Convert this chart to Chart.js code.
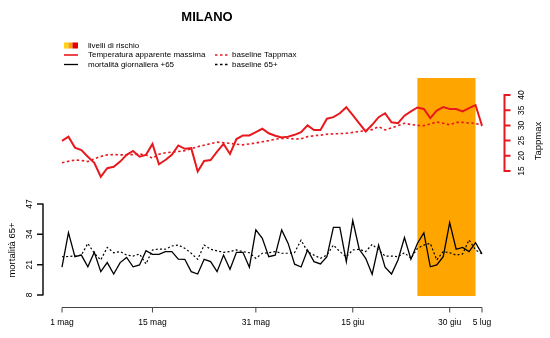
<!DOCTYPE html>
<html>
<head>
<meta charset="utf-8">
<script src="https://cdn.jsdelivr.net/npm/chart.js@4"></script>
<style>
  body { margin: 0; background: #fff; }
  canvas { display: block; }
</style>
</head>
<body>
<canvas id="milano" width="550" height="338"></canvas>
<script>
// daily values, 1 May - 5 July
var tappmax = [24.9, 26.3, 22.7, 21.9, 19.7, 17.7, 13.1, 15.9, 16.4, 18.1, 20.3, 21.6, 19.7, 20.3, 23.9, 17.2,
  18.6, 20.3, 23.4, 22.3, 22.5, 14.8, 18.3, 18.6, 21.4, 23.9, 20.6, 25.5, 26.7, 26.7, 27.8, 28.9, 27.4, 26.6,
  26.0, 26.3, 26.9, 27.8, 30.0, 28.5, 28.5, 32.2, 32.7, 34.0, 36.0, 33.4, 30.7, 28.0, 30.2, 32.7, 34.0, 31.0,
  30.7, 33.2, 34.6, 35.9, 35.4, 32.4, 34.9, 36.0, 35.4, 35.4, 34.6, 35.7, 36.7, 29.9];
var tappmaxBase = [17.7, 18.2, 18.6, 18.5, 18.1, 19.0, 19.8, 20.3, 20.4, 20.3, 20.3, 20.4, 20.6, 20.3, 19.2, 20.5,
  21.0, 21.2, 21.4, 21.7, 22.3, 23.0, 23.5, 24.0, 24.5, 24.3, 24.1, 23.8, 23.6, 23.9, 24.2, 24.6, 25.0, 25.5,
  25.7, 25.8, 25.5, 25.6, 26.3, 26.6, 26.8, 27.1, 27.2, 27.3, 27.4, 27.7, 28.0, 28.3, 28.6, 29.6, 28.5, 29.2,
  29.9, 30.7, 30.3, 30.0, 29.9, 30.5, 31.1, 30.7, 30.2, 31.0, 31.0, 30.8, 30.7, 29.9];
var mortality = [19.9, 34.7, 24.4, 25.1, 20.1, 26.3, 18.0, 21.9, 17.0, 21.9, 24.1, 20.1, 20.9, 27.0, 25.4, 25.4,
  26.6, 26.6, 23.4, 23.3, 18.0, 17.0, 23.3, 22.3, 18.0, 25.1, 19.0, 26.3, 26.3, 19.9, 35.9, 32.3, 24.4, 25.1,
  35.9, 30.1, 21.2, 20.0, 27.3, 22.3, 21.3, 24.4, 37.0, 37.0, 22.3, 39.9, 27.6, 23.7, 16.9, 29.4, 19.9, 17.0,
  23.0, 32.6, 23.3, 30.1, 34.7, 20.1, 20.9, 24.4, 39.0, 27.6, 28.4, 26.6, 30.4, 25.6];
var mortalityBase = [24.4, 24.5, 24.7, 25.1, 30.1, 25.9, 23.0, 28.4, 26.1, 26.6, 25.1, 24.7, 25.6, 21.3, 27.3, 27.7,
  27.6, 29.0, 29.4, 28.0, 25.9, 23.3, 29.4, 27.6, 26.9, 26.3, 26.6, 27.3, 26.6, 26.1, 23.7, 25.9, 26.1, 26.6,
  25.9, 25.9, 26.2, 31.5, 26.6, 25.1, 23.7, 25.1, 29.4, 26.6, 24.4, 27.3, 27.6, 26.6, 29.7, 27.3, 24.7, 24.7,
  24.4, 26.1, 23.7, 28.0, 29.4, 30.1, 23.0, 26.6, 26.1, 25.1, 25.6, 31.6, 27.3, 25.6];

// heat-wave risk period (index of first and last day)
var riskBand = [55, 64];

// axis ticks
var xTickIndex = [0, 14, 30, 45, 60, 65];
var xTickLabels = ['1 mag', '15 mag', '31 mag', '15 giu', '30 giu', '5 lug'];
var tempTicks = [15, 20, 25, 30, 35, 40];
var mortTicks = [8, 21, 34, 47];

// build the day labels
var months = [['mag', 31], ['giu', 30], ['lug', 5]];
var days = [];
for (var m in months) {
  for (var d = 1; d <= months[m][1]; d++) {
    days.push(d + ' ' + months[m][0]);
  }
}

const RED = '#e8191e';
const FONT = '"Liberation Sans", Arial, sans-serif';

// orange band behind the lines
const bandPlugin = {
  id: 'band',
  beforeDatasetsDraw(chart) {
    const ctx = chart.ctx, x = chart.scales.x, a = chart.chartArea;
    const x0 = x.getPixelForValue(riskBand[0]);
    const x1 = x.getPixelForValue(riskBand[1]);
    ctx.save();
    ctx.fillStyle = '#ffa500';
    ctx.fillRect(x0, a.top, x1 - x0, a.bottom - a.top);
    ctx.restore();
  }
};

// R-style axes, title and legend
const decorPlugin = {
  id: 'decor',
  afterDraw(chart) {
    const ctx = chart.ctx;
    const x = chart.scales.x, yT = chart.scales.yT, yM = chart.scales.yM;
    ctx.save();

    // title
    ctx.fillStyle = '#000';
    ctx.font = 'bold 13px ' + FONT;
    ctx.textAlign = 'center';
    ctx.textBaseline = 'middle';
    ctx.fillText('MILANO', 207, 17);

    // x axis
    const xAxisY = 307.5;
    const xs = xTickIndex.map(i => x.getPixelForValue(i));
    ctx.strokeStyle = '#444';
    ctx.lineWidth = 1;
    ctx.beginPath();
    ctx.moveTo(xs[0], xAxisY);
    ctx.lineTo(xs[xs.length - 1], xAxisY);
    xs.forEach(px => { ctx.moveTo(px, xAxisY); ctx.lineTo(px, xAxisY + 5); });
    ctx.stroke();
    ctx.font = '8.5px ' + FONT;
    ctx.fillStyle = '#000';
    xTickLabels.forEach((t, i) => ctx.fillText(t, xs[i], 323));

    // right axis (temperature)
    const rx = 504.5;
    const tp = tempTicks.map(v => yT.getPixelForValue(v));
    ctx.strokeStyle = RED;
    ctx.lineWidth = 2;
    ctx.beginPath();
    ctx.moveTo(rx, tp[0]);
    ctx.lineTo(rx, tp[tp.length - 1]);
    tp.forEach(py => { ctx.moveTo(rx - 1, py); ctx.lineTo(rx + 6, py); });
    ctx.stroke();
    ctx.fillStyle = '#000';
    ctx.font = '8.5px ' + FONT;
    tempTicks.forEach((v, i) => {
      ctx.save();
      ctx.translate(522, tp[i]);
      ctx.rotate(-Math.PI / 2);
      ctx.fillText(String(v), 0, 0);
      ctx.restore();
    });
    ctx.save();
    ctx.translate(538, 141);
    ctx.rotate(-Math.PI / 2);
    ctx.font = '9.5px ' + FONT;
    ctx.fillText('Tappmax', 0, 0);
    ctx.restore();

    // left axis (mortality)
    const lx = 43;
    const mp = mortTicks.map(v => yM.getPixelForValue(v));
    ctx.strokeStyle = '#111';
    ctx.lineWidth = 1.5;
    ctx.beginPath();
    ctx.moveTo(lx, mp[0]);
    ctx.lineTo(lx, mp[mp.length - 1]);
    mp.forEach(py => { ctx.moveTo(lx + 0.5, py); ctx.lineTo(lx - 6, py); });
    ctx.stroke();
    ctx.font = '8.5px ' + FONT;
    mortTicks.forEach((v, i) => {
      ctx.save();
      ctx.translate(30, mp[i]);
      ctx.rotate(-Math.PI / 2);
      ctx.fillText(String(v), 0, 0);
      ctx.restore();
    });
    ctx.save();
    ctx.translate(12, 250);
    ctx.rotate(-Math.PI / 2);
    ctx.font = '9.5px ' + FONT;
    ctx.fillText('mortalità 65+', 0, 0);
    ctx.restore();

    // legend
    ctx.fillStyle = '#ffd21a';
    ctx.fillRect(64, 42.5, 4.5, 6);
    ctx.fillStyle = '#ff9c00';
    ctx.fillRect(68.5, 42.5, 4, 6);
    ctx.fillStyle = '#e00000';
    ctx.fillRect(72.5, 42.5, 5.5, 6);

    ctx.lineWidth = 1.6;
    ctx.strokeStyle = RED;
    ctx.beginPath(); ctx.moveTo(64, 55); ctx.lineTo(78, 55); ctx.stroke();
    ctx.strokeStyle = '#000';
    ctx.lineWidth = 1.3;
    ctx.beginPath(); ctx.moveTo(64, 64.5); ctx.lineTo(78, 64.5); ctx.stroke();

    ctx.setLineDash([2.5, 2.5]);
    ctx.strokeStyle = RED;
    ctx.lineWidth = 1.6;
    ctx.beginPath(); ctx.moveTo(215, 55); ctx.lineTo(230, 55); ctx.stroke();
    ctx.strokeStyle = '#000';
    ctx.lineWidth = 1.3;
    ctx.beginPath(); ctx.moveTo(215, 64.5); ctx.lineTo(230, 64.5); ctx.stroke();
    ctx.setLineDash([]);

    ctx.fillStyle = '#000';
    ctx.font = '8px ' + FONT;
    ctx.textAlign = 'left';
    ctx.fillText('livelli di rischio', 88, 45.5);
    ctx.fillText('Temperatura apparente massima', 88, 55);
    ctx.fillText('mortalità giornaliera +65', 88, 64.5);
    ctx.fillText('baseline Tappmax', 232, 55);
    ctx.fillText('baseline 65+', 232, 64.5);

    ctx.restore();
  }
};

var ctx = document.getElementById('milano');
var chart = new Chart(ctx, {
  type: 'line',
  data: {
    labels: days,
    datasets: [
      { label: 'baseline Tappmax', data: tappmaxBase, yAxisID: 'yT', borderColor: RED, borderWidth: 1.6, borderDash: [2.5, 2.5] },
      { label: 'Temperatura apparente massima', data: tappmax, yAxisID: 'yT', borderColor: RED, borderWidth: 2 },
      { label: 'baseline 65+', data: mortalityBase, yAxisID: 'yM', borderColor: '#000', borderWidth: 1.2, borderDash: [2, 2.2] },
      { label: 'mortalità giornaliera +65', data: mortality, yAxisID: 'yM', borderColor: '#000', borderWidth: 1.3 }
    ]
  },
  options: {
    responsive: false,
    animation: false,
    devicePixelRatio: 1,
    layout: { padding: { left: 62, right: 68, top: 78, bottom: 42 } },
    elements: { point: { radius: 0 }, line: { tension: 0, borderJoinStyle: 'miter' } },
    datasets: { line: { clip: false } },
    plugins: { legend: { display: false }, title: { display: false }, tooltip: { enabled: false } },
    scales: {
      x: { type: 'category', display: false, offset: false },
      yT: { type: 'linear', display: false, min: -26.12, max: 45.59 },
      yM: { type: 'linear', display: false, min: 7.57, max: 101 }
    }
  },
  plugins: [bandPlugin, decorPlugin]
});
</script>
</body>
</html>
